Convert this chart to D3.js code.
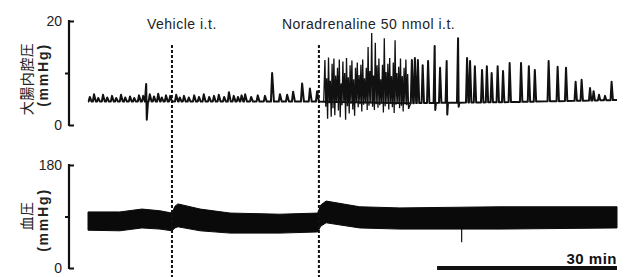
<!DOCTYPE html>
<html>
<head>
    <meta charset="utf-8">
    <title>Colonic and blood pressure trace</title>
    <script src="https://d3js.org/d3.v7.min.js"></script>
    <style>
      body { margin: 0; background: #fff; }
    </style>
</head>
<body>
    <div id="chart"></div>
    <script>

// event times (min)
const vehicleTime = 14;
const noradTime = 38.5;
const eventLabels = ["Vehicle i.t.", "Noradrenaline 50 nmol i.t."];
const traceEnd = 88.2;
const scaleBarMin = 30;

// colonic pressure (mmHg): baseline level
const baseT = [0, 38.5, 54, 70, 88.2];
const baseV = [4.5, 4.5, 4.2, 4.4, 4.8];

// small contractions before noradrenaline
const preT = [0.3, 1.0, 1.7, 2.5, 3.2, 4.0, 4.7, 5.5, 6.2, 7.0, 7.7, 8.5, 9.2, 9.7, 10.3, 11.0, 11.7, 12.3, 13.0, 13.7,
              14.7, 15.3, 16.0, 16.8, 17.7, 18.5, 19.3, 20.2, 21.0, 21.8, 22.7, 23.5, 24.3, 25.0, 25.6,
              26.2, 27.2, 28.3, 29.5, 30.7, 32.0, 33.2, 34.2, 35.7, 37.0, 38.2];
const prePeak = [5.4, 5.9, 5.2, 5.8, 5.3, 5.6, 5.2, 5.8, 5.3, 5.5, 5.2, 5.7, 5.6, 7.9, 5.9, 5.5, 6.0, 5.3, 5.7, 5.6,
                 5.8, 5.3, 5.6, 5.3, 5.7, 5.4, 5.9, 5.4, 5.6, 5.8, 5.4, 6.3, 5.6, 5.4, 5.7,
                 5.9, 5.4, 5.7, 5.6, 10.0, 5.9, 5.8, 6.4, 8.0, 7.0, 6.5];

// burst after noradrenaline: peak / trough of each cycle
const burstStart = 39.5;
const burstStep = 0.3;
const burstHi = [12.5, 9.0, 13.0, 8.5, 11.8, 12.8, 9.5, 11.0, 12.6, 8.0,
                 12.2, 10.0, 12.9, 9.2, 11.5, 12.4, 8.8, 11.0, 12.0, 9.6,
                 11.6, 12.6, 9.0, 11.0, 15.0, 10.4, 17.7, 9.5, 15.8, 11.5,
                 12.8, 8.8, 11.6, 16.7, 10.2, 11.8, 12.9, 9.4, 12.0, 16.3,
                 10.0, 11.2, 12.8, 9.4, 11.0, 12.6, 9.8];
const burstLo = [3.5, 1.2, 4.2, 1.6, 3.2, 1.9, 4.4, 2.8, 1.5, 3.8,
                 4.4, 1.0, 3.6, 2.2, 4.1, 3.0, 1.8, 4.3, 3.4, 4.0,
                 2.6, 3.9, 4.2, 2.9, 3.7, 4.3, 3.5, 2.9, 4.0, 3.3,
                 3.8, 4.2, 2.4, 3.6, 4.1, 3.0, 4.2, 3.4, 2.3, 3.9,
                 4.2, 3.2, 3.7, 2.6, 4.0, 3.8, 3.1];

// separate contractions afterwards
const postT = [54.0, 54.5, 55.0, 55.8, 56.7, 57.8, 58.7, 59.8, 61.7, 63.2, 63.7, 64.5, 65.7, 66.5, 67.3, 68.3,
               69.2, 70.3, 72.2, 73.5, 74.5, 76.8, 78.3, 79.7, 81.3, 82.3, 83.7, 84.3, 85.2, 86.2, 87.3];
const postPeak = [12.5, 12.9, 12.5, 11.5, 12.3, 15.2, 11.0, 12.3, 16.7, 12.9, 12.3, 11.3, 10.6, 11.3, 10.0, 11.3,
                  10.4, 11.9, 11.9, 11.3, 10.6, 12.3, 11.2, 11.0, 8.3, 8.7, 7.1, 6.5, 5.8, 5.6, 8.3];

// downward deflections
const dipT = [9.8, 57.9, 59.9, 61.8];
const dipV = [1.0, 2.9, 2.0, 3.5];

// blood pressure (mmHg): upper / lower edge of the trace
const bpT = [0, 5.3, 9, 12, 14, 14.5, 15, 18.7, 23.7, 32, 38.3, 38.8, 39.7, 45.3, 52, 68.7, 88.2];
const bpSys = [98, 98, 103, 100, 96, 108, 112, 103, 96, 94, 96, 110, 117, 107, 105, 107, 107];
const bpDia = [66, 65, 70, 68, 65, 70, 72, 65, 61, 61, 63, 73, 79, 70, 68, 68, 70];
const bpDipT = [62.3];
const bpDipV = [45];

const width = 635, height = 277;
const font = "'Liberation Sans', Arial, sans-serif";
const cjk = "'Noto Sans CJK JP', 'Noto Sans CJK SC', sans-serif";
const ink = "#111";
const axisX = 69;

const svg = d3.create("svg")
    .attr("width", width)
    .attr("height", height)
    .attr("font-family", font);

const x = d3.scaleLinear().domain([0, traceEnd]).range([88, 617]);
const yTop = d3.scaleLinear().domain([0, 20]).range([125, 21]);
const yBp = d3.scaleLinear().domain([0, 180]).range([268, 165]);
const base = d3.scaleLinear().domain(baseT).range(baseV);
const line = d3.line().x(d => x(d[0])).y(d => yTop(d[1]));

// colonic pressure: quiet part + late contractions
const pts = [[0, base(0)]];
preT.forEach((t, i) => pts.push([t - 0.2, base(t - 0.2)], [t, prePeak[i]], [t + 0.3, base(t + 0.3)]));
dipT.forEach((t, i) => pts.push([t, dipV[i]]));
pts.push([noradTime, base(noradTime)], [burstStart - 0.2, base(burstStart - 0.2)]);
postT.forEach((t, i) => pts.push([t - 0.18, base(t - 0.18)], [t, postPeak[i]], [t + 0.22, base(t + 0.22)]));
pts.push([traceEnd, base(traceEnd)]);
pts.sort((a, b) => a[0] - b[0]);

svg.append("path")
    .datum(pts)
    .attr("fill", "none")
    .attr("stroke", ink)
    .attr("stroke-width", 2)
    .attr("stroke-linejoin", "round")
    .attr("d", line);

// burst (thinner, dense)
const burst = [[burstStart - 0.2, base(burstStart - 0.2)]];
burstHi.forEach((v, i) => {
  const t = burstStart + i * burstStep;
  burst.push([t, v], [t + burstStep / 2, burstLo[i]]);
});
burst.push([postT[0] - 0.18, base(postT[0] - 0.18)]);

svg.append("path")
    .datum(burst)
    .attr("fill", "none")
    .attr("stroke", ink)
    .attr("stroke-width", 1.3)
    .attr("d", line);

// blood pressure band
svg.append("path")
    .datum(bpT.map((t, i) => [t, bpSys[i], bpDia[i]]))
    .attr("fill", "#0a0a0a")
    .attr("stroke", "#0a0a0a")
    .attr("stroke-width", 1)
    .attr("d", d3.area().x(d => x(d[0])).y0(d => yBp(d[2])).y1(d => yBp(d[1])));

svg.append("g")
    .selectAll("line")
    .data(bpDipT.map((t, i) => [t, bpDipV[i]]))
    .join("line")
      .attr("x1", d => x(d[0])).attr("x2", d => x(d[0]))
      .attr("y1", yBp(68)).attr("y2", d => yBp(d[1]))
      .attr("stroke", ink)
      .attr("stroke-width", 1.2);

// y axes: bracket style, end ticks inward, middle tick outward
function drawAxis(y, ticks, labels) {
  const g = svg.append("g")
      .attr("transform", `translate(${axisX},0)`)
      .call(d3.axisLeft(y).tickValues(ticks).tickSize(0).tickPadding(7)
        .tickFormat(d => labels.includes(d) ? d : ""));
  g.select(".domain").remove();
  g.selectAll(".tick line")
      .attr("x1", 0)
      .attr("x2", d => labels.includes(d) ? 5 : -4)
      .attr("stroke-width", 2)
      .attr("stroke", ink);
  g.selectAll(".tick text")
      .attr("font-family", font)
      .attr("font-size", 14)
      .attr("fill", "#222");
  // vertical spine of the bracket
  const [r0, r1] = y.range();
  g.append("path")
      .attr("d", `M0,${r0 + 1}L0,${r1 - 1}`)
      .attr("fill", "none")
      .attr("stroke", ink)
      .attr("stroke-width", 2.2);
}
drawAxis(yTop, [0, 10, 20], [0, 20]);
drawAxis(yBp, [0, 90, 180], [0, 180]);

// y labels
function yLabel(cx, cy, text, family, weight, spacing) {
  svg.append("text")
      .attr("transform", `translate(${cx},${cy}) rotate(-90)`)
      .attr("text-anchor", "middle")
      .attr("font-family", family)
      .attr("font-size", 14)
      .attr("font-weight", weight)
      .attr("letter-spacing", spacing)
      .attr("fill", "#222")
      .text(text);
}
yLabel(32, 79, "大腸内腔圧", cjk, "normal", 0.5);
yLabel(48, 75, "(mmHg)", font, "bold", 1.8);
yLabel(32, 216, "血圧", cjk, "normal", 0.5);
yLabel(48, 220, "(mmHg)", font, "bold", 1.8);

// injection markers
[vehicleTime, noradTime].forEach((t, i) => {
  svg.append("line")
      .attr("x1", x(t)).attr("x2", x(t))
      .attr("y1", 45).attr("y2", height)
      .attr("stroke", ink)
      .attr("stroke-width", 2)
      .attr("stroke-dasharray", "3,2");
  svg.append("text")
      .attr("x", x(t) - (i === 0 ? 25 : 37))
      .attr("y", 29)
      .attr("font-size", 14)
      .attr("letter-spacing", 0.5)
      .attr("fill", "#222")
      .text(eventLabels[i]);
});

// time scale bar
svg.append("line")
    .attr("x1", x(traceEnd - scaleBarMin)).attr("x2", x(traceEnd))
    .attr("y1", 268).attr("y2", 268)
    .attr("stroke", ink)
    .attr("stroke-width", 4);
svg.append("text")
    .attr("x", x(traceEnd))
    .attr("y", 264)
    .attr("text-anchor", "end")
    .attr("font-size", 15)
    .attr("font-weight", "bold")
    .attr("letter-spacing", 0.5)
    .attr("fill", ink)
    .text(`${scaleBarMin} min`);

document.getElementById('chart').appendChild(svg.node());

    </script>
</body>
</html>
